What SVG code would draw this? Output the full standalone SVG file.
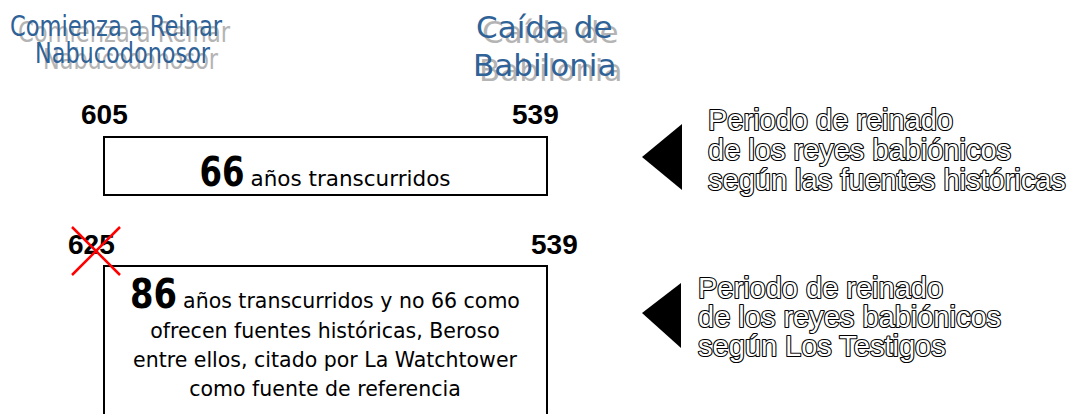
<svg xmlns="http://www.w3.org/2000/svg" width="1069" height="414" viewBox="0 0 1069 414">
<style>
.title{font-family:"Liberation Sans Narrow","DejaVu Sans Condensed","Liberation Sans",sans-serif;font-size:29px;fill:#2F6296}
.titleS{font-family:"Liberation Sans Narrow","DejaVu Sans Condensed","Liberation Sans",sans-serif;font-size:29px;fill:#A8A8A8;opacity:.85}
.t2{font-family:"DejaVu Sans",sans-serif;font-size:31px;fill:#2F6296}
.t2S{font-family:"DejaVu Sans",sans-serif;font-size:31px;fill:#A8A8A8;opacity:.85}
.num{font-family:"Liberation Sans",Arial,sans-serif;font-weight:bold;font-size:28px;fill:#000}
.box{fill:#fff;stroke:#000;stroke-width:2}
.big{font-family:"DejaVu Sans Condensed","DejaVu Sans",sans-serif;font-weight:bold;font-size:40px;fill:#000}
.body{font-family:"DejaVu Sans",sans-serif;font-size:21.5px;fill:#000}
.body2{font-family:"DejaVu Sans",sans-serif;font-size:20.5px;fill:#000}
.out{font-family:"Liberation Sans",Arial,sans-serif;font-size:29px;fill:#fff;stroke:#000;stroke-width:2.2;paint-order:stroke;stroke-linejoin:round}
.tri{fill:#000}
.x{stroke:#FF0000;stroke-width:2.5}
</style>
<g id="title-left">
<text class="titleS" x="18" y="42" textLength="212" lengthAdjust="spacingAndGlyphs">Comienza a Reinar</text>
<text class="title" x="10" y="36" textLength="212" lengthAdjust="spacingAndGlyphs">Comienza a Reinar</text>
<text class="titleS" x="43" y="69" textLength="175" lengthAdjust="spacingAndGlyphs">Nabucodonosor</text>
<text class="title" x="35" y="63" textLength="175" lengthAdjust="spacingAndGlyphs">Nabucodonosor</text>
</g>
<g id="title-right">
<text class="t2S" x="482" y="43">Caída de</text>
<text class="t2" x="476" y="38">Caída de</text>
<text class="t2S" x="479" y="81">Babilonia</text>
<text class="t2" x="473" y="76">Babilonia</text>
</g>
<g id="node-historic">
<text class="num" x="81" y="124">605</text>
<text class="num" x="512" y="124">539</text>
<rect class="box" x="104" y="137" width="443" height="58"/>
<text x="325" y="186" text-anchor="middle"><tspan class="big" textLength="45" lengthAdjust="spacingAndGlyphs">66</tspan><tspan class="body" dx="6">años transcurridos</tspan></text>
</g>
<g id="node-witnesses">
<text class="num" x="68" y="254">625</text>
<text class="num" x="531" y="254">539</text>
<rect class="box" x="104" y="266" width="443" height="160"/>
<text x="325" y="308" text-anchor="middle"><tspan class="big" textLength="47" lengthAdjust="spacingAndGlyphs">86</tspan><tspan class="body2" dx="6">años transcurridos y no 66 como</tspan></text>
<text class="body2" x="325" y="338" text-anchor="middle">ofrecen fuentes históricas, Beroso</text>
<text class="body2" x="325" y="367" text-anchor="middle">entre ellos, citado por La Watchtower</text>
<text class="body2" x="325" y="396" text-anchor="middle">como fuente de referencia</text>
<line class="x" x1="72" y1="227" x2="120" y2="275"/>
<line class="x" x1="120" y1="227" x2="72" y2="275"/>
</g>
<g id="label-historic">
<polygon class="tri" points="642,157 682,124 682,190"/>
<text class="out" x="708" y="130">Periodo de reinado</text>
<text class="out" x="708" y="160">de los reyes babiónicos</text>
<text class="out" x="708" y="190">según las fuentes históricas</text>
</g>
<g id="label-witnesses">
<polygon class="tri" points="642,313 681,283 681,348"/>
<text class="out" x="698" y="298">Periodo de reinado</text>
<text class="out" x="698" y="327">de los reyes babiónicos</text>
<text class="out" x="698" y="356">según Los Testigos</text>
</g>
<g id="connectors"></g>
</svg>
